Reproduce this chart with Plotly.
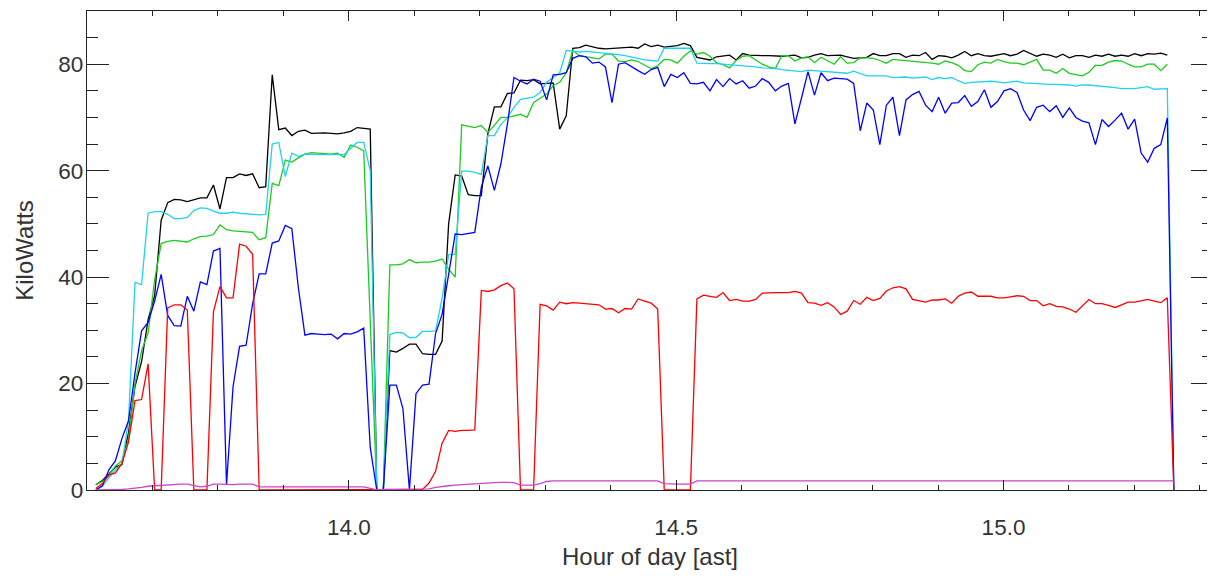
import numpy as np
import plotly.graph_objects as go

# time axis: regular sampling (hours, AST)
t_start = 13.6135
t_step = 0.00998
n_samples = 166
times = np.round(t_start + t_step * np.arange(n_samples), 5)

black = [1.0, 1.8, 3.0, 4.3, 4.8, 10.8, 19.5, 24.1, 32.0, 36.5, 50.7,
         54.0, 54.6, 54.5, 54.2, 54.5, 54.9, 54.9, 57.3, 52.8, 58.7,
         58.7, 59.4, 59.1, 59.4, 56.8, 57.0, 78.0, 67.7, 68.0, 66.6,
         67.4, 67.6, 67.0, 67.1, 67.1, 67.0, 66.9, 67.1, 67.4, 68.1,
         68.0, 67.8, 0.0, 0.0, 26.2, 25.9, 26.6, 27.4, 27.4, 25.6,
         25.5, 25.5, 28.0, 50.0, 59.2, 59.0, 55.5, 55.3, 55.3, 66.9,
         72.0, 72.0, 74.5, 74.6, 77.0, 76.9, 77.1, 76.3, 76.4, 76.5,
         67.8, 70.3, 83.0, 83.1, 83.6, 83.3, 83.0, 82.9, 83.0, 83.1,
         83.1, 83.2, 83.0, 83.8, 83.3, 83.6, 83.2, 83.3, 83.5, 83.9,
         83.5, 81.3, 81.1, 80.8, 81.4, 81.6, 81.7, 80.8, 82.0, 81.7,
         81.6, 81.6, 81.6, 81.5, 81.5, 81.6, 81.7, 81.2, 81.3, 81.7,
         82.0, 81.6, 81.7, 81.7, 81.4, 81.1, 81.2, 81.3, 82.0, 81.6,
         81.6, 82.0, 82.0, 81.3, 81.7, 81.6, 82.2, 80.9, 81.6, 81.5,
         81.2, 81.7, 82.4, 81.6, 82.0, 81.6, 81.5, 81.7, 82.0, 81.6,
         81.9, 82.6, 82.0, 81.5, 81.9, 81.7, 81.3, 81.9, 81.2, 81.6,
         81.6, 81.3, 81.7, 81.5, 81.9, 81.5, 81.7, 81.5, 82.0, 81.6,
         82.0, 81.9, 82.1, 81.7]

green = [1.0, 1.6, 2.8, 4.5, 5.5, 9.5, 20.0, 26.2, 29.5, 39.5, 46.3,
         46.7, 46.9, 46.7, 46.6, 47.2, 47.6, 47.7, 48.0, 49.8, 48.9,
         48.7, 48.6, 48.4, 48.4, 47.0, 47.4, 57.6, 57.2, 62.0, 61.6,
         62.4, 63.1, 63.4, 63.3, 63.1, 63.1, 63.3, 62.5, 64.8, 64.4,
         63.7, 32.0, 0.0, 0.0, 42.3, 42.3, 42.5, 43.3, 42.7, 42.8,
         42.8, 43.0, 43.4, 41.5, 40.0, 68.6, 68.4, 68.1, 68.5, 67.2,
         68.5, 70.0, 70.0, 70.3, 70.6, 70.0, 72.8, 73.6, 74.4, 76.0,
         76.6, 78.4, 82.6, 81.6, 81.4, 81.2, 81.0, 81.9, 81.9, 80.6,
         80.5, 80.8, 80.5, 79.8, 79.2, 79.7, 80.9, 80.8, 80.2, 81.5,
         82.5, 81.9, 82.2, 81.5, 80.3, 79.9, 79.3, 80.7, 81.5, 81.6,
         80.8, 80.0, 79.5, 79.2, 81.6, 81.6, 80.6, 81.2, 81.4, 80.3,
         81.3, 80.7, 80.0, 81.4, 80.2, 80.3, 81.2, 81.2, 81.1, 80.7,
         80.2, 80.9, 80.8, 80.7, 80.5, 80.4, 80.3, 80.2, 80.0, 80.6,
         80.3, 79.8, 78.8, 78.6, 79.9, 80.4, 80.2, 80.9, 80.5, 80.2,
         80.2, 79.9, 80.4, 80.9, 78.9, 78.9, 78.3, 79.2, 78.3, 78.1,
         77.8, 78.5, 79.8, 79.8, 80.4, 80.7, 80.6, 80.0, 79.5, 79.5,
         80.0, 80.0, 78.8, 80.0]

cyan = [0.1, 0.7, 2.3, 3.8, 5.0, 13.0, 39.0, 38.6, 52.0, 52.3, 52.3,
        51.8, 51.0, 51.0, 51.2, 52.5, 53.0, 52.9, 52.4, 52.0, 52.0,
        52.2, 52.0, 51.9, 51.8, 51.7, 51.8, 65.0, 65.3, 58.9, 63.3,
        62.7, 63.1, 63.0, 63.0, 63.0, 63.0, 62.9, 63.0, 64.2, 65.3,
        65.3, 60.0, 0.0, 0.0, 29.2, 29.6, 29.5, 28.6, 28.7, 29.8,
        29.8, 29.9, 36.0, 44.2, 44.3, 59.9, 59.9, 59.7, 59.3, 66.6,
        66.6, 68.7, 70.0, 71.9, 73.4, 73.6, 73.8, 74.7, 76.6, 77.5,
        78.4, 82.6, 82.5, 82.3, 82.4, 82.3, 82.2, 82.1, 81.9, 81.8,
        81.6, 81.3, 81.0, 80.8, 80.7, 80.6, 83.0, 83.0, 82.9, 82.9,
        83.0, 80.2, 80.1, 80.1, 80.1, 80.0, 80.0, 79.8, 79.7, 79.7,
        79.5, 79.3, 79.3, 79.2, 79.0, 78.9, 78.8, 78.6, 78.9, 78.8,
        78.7, 78.7, 78.6, 78.4, 78.3, 78.7, 78.2, 77.8, 77.8, 77.8,
        77.8, 77.5, 77.6, 77.6, 77.4, 77.5, 77.6, 77.1, 77.5, 77.3,
        77.5, 76.9, 76.4, 76.6, 76.7, 76.8, 76.8, 76.7, 76.5, 76.7,
        76.8, 76.5, 76.4, 76.3, 76.3, 76.2, 76.2, 76.2, 76.1, 75.9,
        76.1, 76.1, 76.0, 75.9, 75.8, 75.6, 75.4, 75.4, 75.4, 75.6,
        75.8, 75.3, 75.3, 75.4, 0.0]

blue = [0.0, 0.8, 3.8, 5.5, 9.7, 13.0, 22.0, 29.9, 31.5, 35.5,
        40.5, 32.8, 30.9, 30.8, 36.4, 33.6, 39.1, 38.6, 44.9, 45.4,
        1.0, 19.4, 27.0, 27.2, 35.0, 40.6, 40.6, 46.4, 46.8, 49.7,
        49.1, 38.0, 29.1, 29.4, 29.3, 29.2, 29.3, 28.4, 29.4, 29.3,
        29.7, 30.4, 8.0, 0.0, 0.0, 19.7, 19.7, 15.3, 0.0, 18.1,
        19.7, 19.9, 29.4, 33.0, 40.5, 48.1, 48.0, 48.2, 48.4, 56.9,
        60.9, 56.3, 61.3, 68.8, 77.5, 76.8, 76.3, 77.2, 76.8, 73.3,
        78.0, 78.1, 78.4, 81.1, 81.6, 81.4, 80.2, 80.4, 79.5, 72.8,
        80.0, 80.3, 79.5, 78.8, 78.1, 79.0, 79.4, 75.8, 78.1, 77.5,
        78.4, 76.4, 76.3, 76.6, 75.0, 77.1, 75.8, 77.3, 76.3, 76.9,
        75.5, 75.9, 77.3, 76.6, 75.0, 75.9, 76.4, 68.8, 73.6, 78.6,
        74.2, 78.4, 76.9, 77.4, 77.3, 77.2, 76.4, 67.5, 72.7, 71.4,
        64.9, 72.3, 73.8, 66.6, 73.3, 74.3, 74.9, 72.3, 71.1, 73.8,
        70.8, 72.7, 72.8, 74.1, 72.1, 73.0, 75.2, 71.9, 73.0, 75.0,
        75.4, 74.7, 71.4, 69.4, 71.9, 72.3, 71.1, 72.2, 70.0, 71.8,
        70.0, 69.3, 69.0, 64.9, 69.6, 68.3, 69.5, 70.8, 67.8, 69.7,
        63.3, 61.6, 64.2, 64.9, 69.9, 0.0]

red = [0.3, 1.2, 2.8, 3.2, 5.0, 9.0, 16.8, 17.0, 23.7, 0.0, 0.0,
       34.2, 34.8, 34.8, 33.8, 0.0, 0.0, 0.0, 33.5, 38.2, 36.1,
       36.1, 46.2, 45.8, 44.3, 0.0, 0.0, 0.0, 0.0, 0.0, 0.0,
       0.0, 0.0, 0.0, 0.0, 0.0, 0.0, 0.0, 0.0, 0.0, 0.0,
       0.0, 0.0, 0.0, 0.0, 0.0, 0.0, 0.0, 0.0, 0.0, 0.1,
       1.3, 3.5, 8.8, 11.2, 11.0, 11.2, 11.2, 11.3, 37.5, 37.3,
       37.6, 38.4, 38.9, 37.8, 0.0, 0.0, 0.0, 34.9, 34.6, 33.8,
       35.3, 35.0, 35.2, 35.1, 35.0, 34.9, 34.8, 34.0, 34.1, 33.3,
       34.1, 34.0, 35.9, 35.5, 35.1, 34.0, 0.0, 0.0, 0.0, 0.0,
       0.0, 35.9, 36.6, 36.4, 36.2, 37.1, 35.6, 35.8, 35.5, 35.5,
       35.8, 37.0, 37.1, 37.1, 37.1, 37.1, 37.3, 37.0, 35.2, 35.1,
       34.7, 35.2, 34.4, 33.0, 33.6, 35.6, 34.9, 36.2, 35.6, 36.0,
       37.4, 38.0, 38.2, 37.8, 35.8, 35.5, 35.3, 35.7, 35.7, 35.9,
       35.1, 36.4, 37.0, 37.2, 36.4, 36.4, 36.4, 36.1, 36.1, 36.3,
       36.5, 36.4, 35.6, 35.6, 34.6, 35.0, 34.5, 34.4, 34.0, 33.4,
       34.7, 35.8, 35.0, 35.0, 34.7, 34.3, 34.8, 35.3, 35.3, 35.6,
       35.8, 35.5, 35.2, 36.1, 0.0]

magenta = [0.0, 0.0, 0.0, 0.0, 0.1, 0.2, 0.3, 0.5, 0.7, 0.8, 0.9,
           1.0, 1.1, 1.1, 1.1, 0.9, 0.6, 0.7, 1.1, 1.1, 1.0,
           1.0, 1.1, 1.1, 1.1, 0.6, 0.6, 0.6, 0.6, 0.6, 0.6,
           0.6, 0.6, 0.6, 0.6, 0.6, 0.6, 0.6, 0.6, 0.6, 0.6,
           0.6, 0.3, 0.0, 0.1, 0.1, 0.2, 0.2, 0.2, 0.2, 0.2,
           0.2, 0.5, 0.7, 0.8, 0.9, 1.0, 1.0, 1.1, 1.2, 1.4,
           1.4, 1.45, 1.45, 1.4, 0.9, 0.9, 0.9, 1.2, 1.6, 1.7,
           1.7, 1.7, 1.7, 1.7, 1.7, 1.7, 1.7, 1.7, 1.7, 1.7,
           1.7, 1.7, 1.7, 1.7, 1.7, 1.7, 1.2, 1.1, 1.1, 1.1,
           1.1, 1.7, 1.7, 1.7, 1.7, 1.7, 1.7, 1.7, 1.7, 1.7,
           1.7, 1.7, 1.7, 1.7, 1.7, 1.7, 1.7, 1.7, 1.7, 1.7,
           1.7, 1.7, 1.7, 1.7, 1.7, 1.7, 1.7, 1.7, 1.7, 1.7,
           1.7, 1.7, 1.7, 1.7, 1.7, 1.7, 1.7, 1.7, 1.7, 1.7,
           1.7, 1.7, 1.7, 1.7, 1.7, 1.7, 1.7, 1.7, 1.7, 1.7,
           1.7, 1.7, 1.7, 1.7, 1.7, 1.7, 1.7, 1.7, 1.7, 1.7,
           1.7, 1.7, 1.7, 1.7, 1.7, 1.7, 1.7, 1.7, 1.7, 1.7,
           1.7, 1.7, 1.7, 1.7, 1.7, 0.0]

x_ticks = [14.0, 14.5, 15.0]
x_tick_labels = ["14.0", "14.5", "15.0"]
y_ticks = [0, 20, 40, 60, 80]
y_tick_labels = ["0", "20", "40", "60", "80"]

series = [
    (black, "#000000"),
    (green, "#1ccc1c"),
    (cyan, "#22d0f0"),
    (blue, "#0000ff"),
    (red, "#ff0000"),
    (magenta, "#cc44cc"),
]

fig = go.Figure()
for vals, color in series:
    fig.add_trace(go.Scatter(
        x=times[:len(vals)], y=vals, mode="lines",
        line=dict(color=color, width=1.3),
        showlegend=False, hoverinfo="skip",
    ))

font_family = "Liberation Sans, Arial, Helvetica, sans-serif"
axis_color = "#222222"
text_color = "#333333"

# the page body adds an 8 px offset, so the figure is sized/margined to compensate
fig.update_layout(
    width=1207, height=568,
    margin=dict(l=79, r=2, t=3, b=86),
    paper_bgcolor="white", plot_bgcolor="white",
    font=dict(family=font_family, color=text_color),
    xaxis=dict(
        range=[13.6, 15.32],
        tickvals=x_ticks, ticktext=x_tick_labels,
        ticks="inside", ticklen=9.5, tickwidth=1.2, tickcolor=axis_color,
        showline=True, linecolor=axis_color, linewidth=1.3, mirror="allticks",
        showgrid=False, zeroline=False,
        minor=dict(dtick=0.1, tick0=14.0, ticks="inside", ticklen=4.5,
                   tickwidth=1, tickcolor=axis_color, showgrid=False),
        tickfont=dict(size=22.5, color=text_color),
        ticklabelstandoff=17,
        title=dict(text="Hour of day [ast]", font=dict(size=24, color=text_color), standoff=9),
    ),
    yaxis=dict(
        range=[0, 90],
        tickvals=y_ticks, ticktext=y_tick_labels,
        ticks="inside", ticklen=22, tickwidth=1.2, tickcolor=axis_color,
        showline=True, linecolor=axis_color, linewidth=1.3, mirror="allticks",
        showgrid=False, zeroline=False,
        minor=dict(dtick=5, tick0=0, ticks="inside", ticklen=11,
                   tickwidth=1, tickcolor=axis_color, showgrid=False),
        tickfont=dict(size=22.5, color=text_color),
        ticklabelstandoff=-2,
        title=dict(text="KiloWatts", font=dict(size=24, color=text_color), standoff=17),
    ),
)

fig.write_html("out.html")
